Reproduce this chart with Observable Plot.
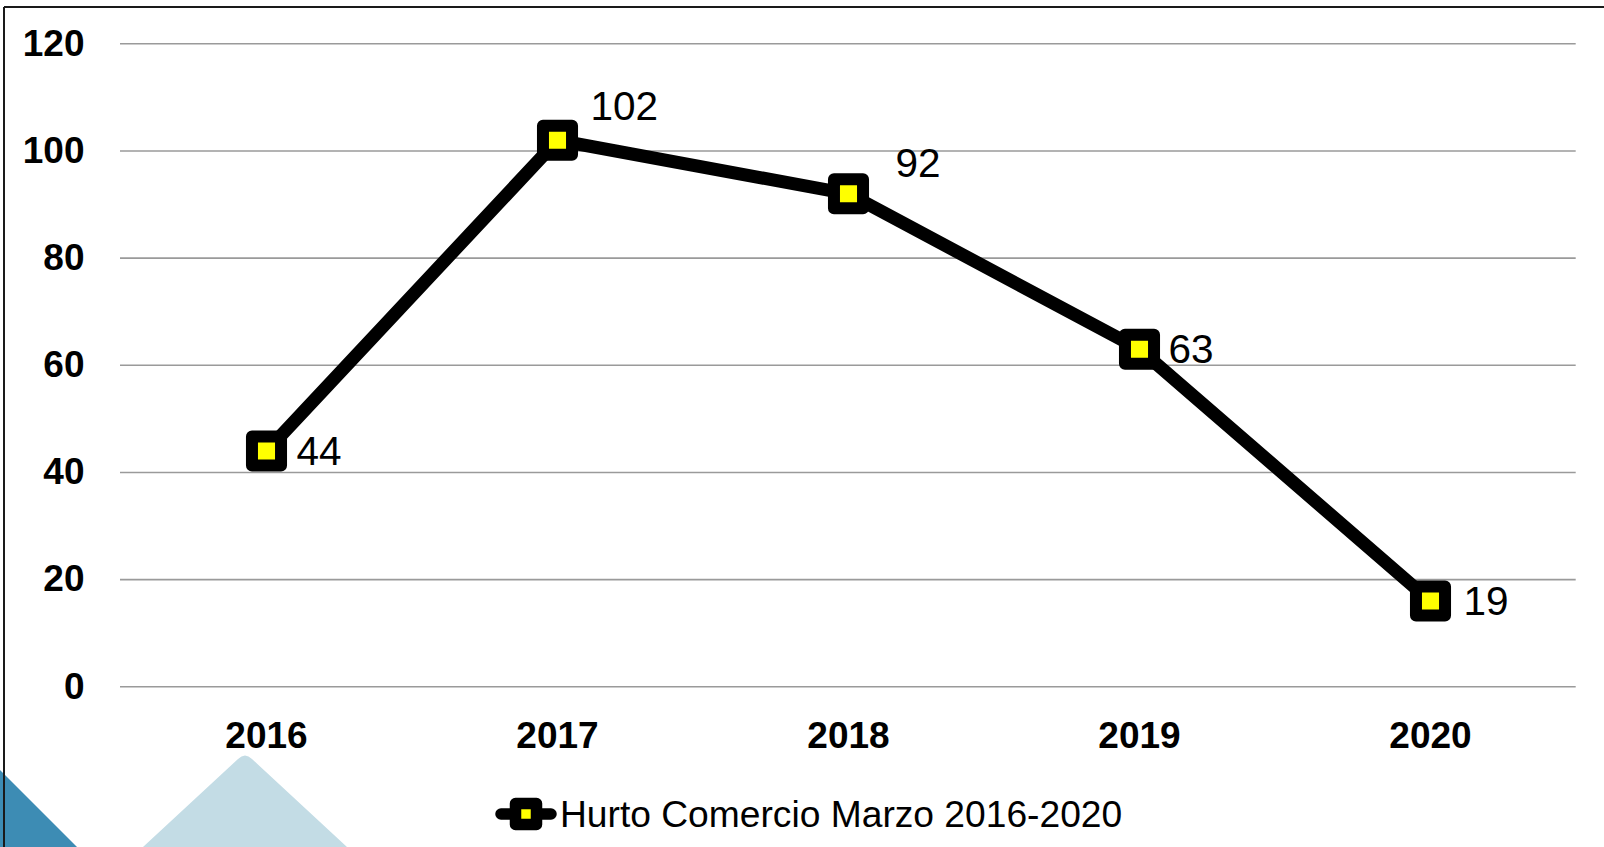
<!DOCTYPE html>
<html>
<head>
<meta charset="utf-8">
<script src="https://cdn.jsdelivr.net/npm/d3@7"></script>
<script src="https://cdn.jsdelivr.net/npm/@observablehq/plot@0.6"></script>
<style>
  html, body { margin: 0; padding: 0; background: #fff; }
  #page { position: relative; width: 1604px; height: 847px; overflow: hidden; font-family: "Liberation Sans", Arial, sans-serif; }
  #deco { position: absolute; left: 0; top: 0; z-index: 0; }
  #chart { position: absolute; left: 0; top: 0; z-index: 1; }
  #legend { position: absolute; left: 0; top: 790px; width: 1604px; height: 48px; z-index: 2;
            display: flex; align-items: center; }
  #legend .sym { position: absolute; left: 490px; top: 6px; }
  #legend .txt { position: absolute; left: 560px; top: 0; height: 48px; line-height: 48px;
                 font-size: 37.2px; color: #000; white-space: nowrap; }
  #frame { position: absolute; left: 0; top: 0; z-index: 3; pointer-events: none; }
</style>
</head>
<body>
<div id="page">
  <svg id="deco" width="1604" height="847">
    <polygon points="0,770 77,847 0,847" fill="#3d8cb4"></polygon>
    <path d="M143,847 L238,759 Q245,752 252,759 L347,847 Z" fill="#c3dce5"></path>
  </svg>
  <div id="chart"></div>
  <div id="legend">
    <svg class="sym" width="72" height="36">
      <line x1="11" y1="18" x2="61" y2="18" stroke="#000" stroke-width="11.5" stroke-linecap="round"></line>
      <rect x="25.5" y="7.5" width="21" height="21" fill="#ffff00" stroke="#000" stroke-width="11.5" stroke-linejoin="round"></rect>
    </svg>
    <span class="txt">Hurto Comercio Marzo 2016-2020</span>
  </div>
  <svg id="frame" width="1604" height="847">
    <line x1="4" y1="7" x2="1604" y2="7" stroke="#1a1a1a" stroke-width="2"></line>
    <line x1="4" y1="7" x2="4" y2="847" stroke="#1a1a1a" stroke-width="2"></line>
  </svg>
</div>
<script>
// ---- data ----
const years = ["2016", "2017", "2018", "2019", "2020"];
const plottedValues = [44, 102, 92, 63, 16];
const dataLabels = ["44", "102", "92", "63", "19"];
const yTicks = [0, 20, 40, 60, 80, 100, 120];
const seriesName = "Hurto Comercio Marzo 2016-2020";

const rows = years.map((y, i) => ({year: y, value: plottedValues[i], label: dataLabels[i]}));

// label placement (style, by year)
const placement = {
  "2016": {dx: 30, dy: 1},
  "2017": {dx: 33, dy: -33},
  "2018": {dx: 47, dy: -30},
  "2019": {dx: 29, dy: 1},
  "2020": {dx: 33, dy: 1}
};

const font = "Liberation Sans, Arial, sans-serif";

const labelMarks = years.map(yr => Plot.text(rows.filter(d => d.year === yr), {
  x: "year", y: "value", text: "label",
  textAnchor: "start", fontSize: 40.5, fill: "#000",
  dx: placement[yr].dx, dy: placement[yr].dy
}));

const chart = Plot.plot({
  width: 1604,
  height: 770,
  marginLeft: 120,
  marginRight: 28.3,
  marginTop: 43.3,
  marginBottom: 83.7,
  style: {fontFamily: font, background: "transparent", color: "#000", overflow: "visible"},
  x: {type: "point", domain: years, padding: 0.5, label: null},
  y: {domain: [0, 120], label: null},
  marks: [
    Plot.ruleY(yTicks, {stroke: "#9a9a9a", strokeWidth: 1.6}),
    Plot.axisY({ticks: yTicks, tickSize: 0, tickPadding: 36, fontSize: 37, fontWeight: "bold", label: null}),
    Plot.axisX({tickSize: 0, tickPadding: 35, fontSize: 37, fontWeight: "bold", label: null}),
    Plot.line(rows, {x: "year", y: "value", stroke: "#000", strokeWidth: 13, strokeLinejoin: "miter"}),
    Plot.dot(rows, {x: "year", y: "value", symbol: "square", r: 16.4, fill: "#ffff00",
                    stroke: "#000", strokeWidth: 12, strokeLinejoin: "round"}),
    ...labelMarks
  ]
});
chart.setAttribute("aria-label", seriesName);
document.getElementById("chart").appendChild(chart);
</script>
</body>
</html>
